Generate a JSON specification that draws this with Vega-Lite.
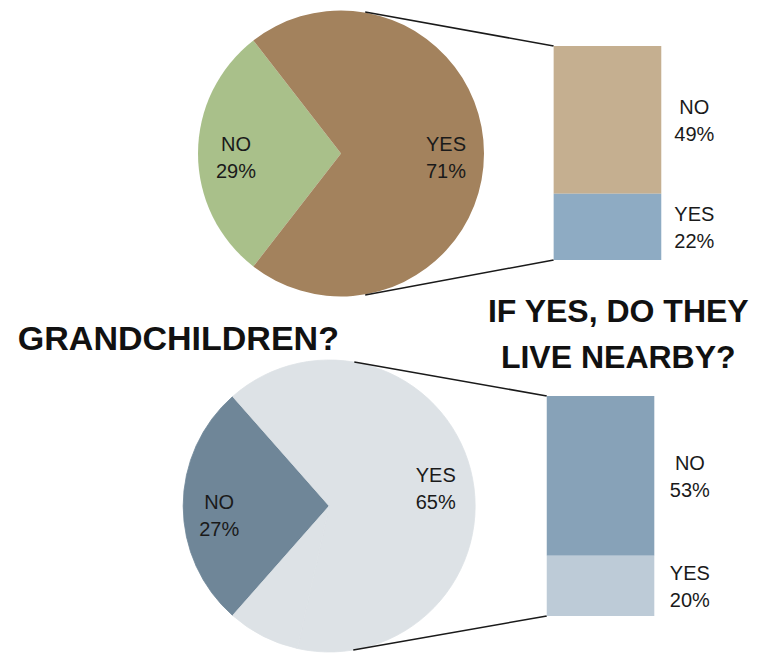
{
  "$schema": "https://vega.github.io/schema/vega-lite/v6.json",
  "padding": 0,
  "spacing": 0,
  "bounds": "flush",
  "background": "white",
  "datasets": {
    "top_pie": [
      {"answer": "NO", "share": 0.29},
      {"answer": "YES", "share": 0.71}
    ],
    "top_bar": [
      {"answer": "NO", "share": 0.49},
      {"answer": "YES", "share": 0.22}
    ],
    "grand_pie": [
      {"answer": "NO", "share": 0.27},
      {"answer": "YES", "share": 0.65},
      {"answer": "NO ANSWER", "share": 0.08}
    ],
    "grand_bar": [
      {"answer": "NO", "share": 0.53},
      {"answer": "YES", "share": 0.20}
    ]
  },
  "vconcat": [
    {
      "width": 759,
      "height": 300,
      "resolve": {"scale": {"color": "independent"}},
      "layer": [
        {
          "data": {"name": "top_pie"},
          "mark": {"type": "arc", "radius": 143},
          "encoding": {
            "theta": {"field": "share", "type": "quantitative", "stack": true, "scale": {"domain": [0, 1], "range": [3.8013, 10.0845]}},
            "order": {"field": "share", "sort": "ascending"},
            "color": {"field": "answer", "type": "nominal", "scale": {"domain": ["NO", "YES"], "range": ["#a9c08a", "#a3825d"]}, "legend": null},
            "x": {"datum": 44.86, "type": "quantitative", "scale": {"domain": [0, 100], "nice": false, "zero": false}, "axis": null},
            "y": {"datum": 0.3534, "type": "quantitative", "scale": {"domain": [-0.1327, 0.8626], "nice": false, "zero": false}, "axis": null}
          }
        },
        {
          "data": {"name": "top_pie"},
          "mark": {"type": "text", "radius": 105, "dy": -8.5, "font": "Liberation Sans", "fontSize": 20, "fill": "#1a1a1a"},
          "encoding": {
            "theta": {"field": "share", "type": "quantitative", "stack": true, "scale": {"domain": [0, 1], "range": [3.8013, 10.0845]}},
            "order": {"field": "share", "sort": "ascending"},
            "text": {"field": "answer"},
            "x": {"datum": 44.86, "type": "quantitative", "scale": {"domain": [0, 100], "nice": false, "zero": false}, "axis": null},
            "y": {"datum": 0.3534, "type": "quantitative", "scale": {"domain": [-0.1327, 0.8626], "nice": false, "zero": false}, "axis": null}
          }
        },
        {
          "data": {"name": "top_pie"},
          "mark": {"type": "text", "radius": 105, "dy": 18.5, "font": "Liberation Sans", "fontSize": 20, "fill": "#1a1a1a"},
          "encoding": {
            "theta": {"field": "share", "type": "quantitative", "stack": true, "scale": {"domain": [0, 1], "range": [3.8013, 10.0845]}},
            "order": {"field": "share", "sort": "ascending"},
            "text": {"field": "share", "format": ".0%"},
            "x": {"datum": 44.86, "type": "quantitative", "scale": {"domain": [0, 100], "nice": false, "zero": false}, "axis": null},
            "y": {"datum": 0.3534, "type": "quantitative", "scale": {"domain": [-0.1327, 0.8626], "nice": false, "zero": false}, "axis": null}
          }
        },
        {
          "data": {"values": [{}]},
          "mark": {"type": "rule", "color": "#1a1a1a", "strokeWidth": 1.5},
          "encoding": {
            "x": {"datum": 48.09, "type": "quantitative", "scale": {"domain": [0, 100], "nice": false, "zero": false}, "axis": null},
            "y": {"datum": 0.8228, "type": "quantitative", "scale": {"domain": [-0.1327, 0.8626], "nice": false, "zero": false}, "axis": null},
            "x2": {"datum": 73.25},
            "y2": {"datum": 0.71}
          }
        },
        {
          "data": {"values": [{}]},
          "mark": {"type": "rule", "color": "#1a1a1a", "strokeWidth": 1.5},
          "encoding": {
            "x": {"datum": 48.09, "type": "quantitative", "scale": {"domain": [0, 100], "nice": false, "zero": false}, "axis": null},
            "y": {"datum": -0.1161, "type": "quantitative", "scale": {"domain": [-0.1327, 0.8626], "nice": false, "zero": false}, "axis": null},
            "x2": {"datum": 73.25},
            "y2": {"datum": 0}
          }
        },
        {
          "data": {"name": "top_bar"},
          "mark": {"type": "bar", "orient": "vertical"},
          "encoding": {
            "x": {"datum": 73.25, "type": "quantitative", "scale": {"domain": [0, 100], "nice": false, "zero": false}, "axis": null},
            "x2": {"datum": 87.62},
            "y": {"field": "share", "type": "quantitative", "stack": "zero", "scale": {"domain": [-0.1327, 0.8626], "nice": false, "zero": false}, "axis": null},
            "order": {"field": "share", "sort": "ascending"},
            "color": {"field": "answer", "type": "nominal", "scale": {"domain": ["NO", "YES"], "range": ["#c5af90", "#8eabc3"]}, "legend": null}
          }
        },
        {
          "data": {"name": "top_bar"},
          "mark": {"type": "text", "dy": -11.5, "font": "Liberation Sans", "fontSize": 20, "fill": "#1a1a1a"},
          "encoding": {
            "x": {"datum": 92.03, "type": "quantitative", "scale": {"domain": [0, 100], "nice": false, "zero": false}, "axis": null},
            "y": {"field": "share", "type": "quantitative", "stack": "zero", "bandPosition": 0.5, "scale": {"domain": [-0.1327, 0.8626], "nice": false, "zero": false}, "axis": null},
            "order": {"field": "share", "sort": "ascending"},
            "text": {"field": "answer"}
          }
        },
        {
          "data": {"name": "top_bar"},
          "mark": {"type": "text", "dy": 15.5, "font": "Liberation Sans", "fontSize": 20, "fill": "#1a1a1a"},
          "encoding": {
            "x": {"datum": 92.03, "type": "quantitative", "scale": {"domain": [0, 100], "nice": false, "zero": false}, "axis": null},
            "y": {"field": "share", "type": "quantitative", "stack": "zero", "bandPosition": 0.5, "scale": {"domain": [-0.1327, 0.8626], "nice": false, "zero": false}, "axis": null},
            "order": {"field": "share", "sort": "ascending"},
            "text": {"field": "share", "format": ".0%"}
          }
        }
      ]
    },
    {
      "width": 759,
      "height": 356,
      "resolve": {"scale": {"color": "independent", "stroke": "independent"}},
      "layer": [
        {
          "data": {"name": "grand_pie"},
          "mark": {"type": "arc", "radius": 146, "strokeWidth": 0.8},
          "encoding": {
            "theta": {"field": "share", "type": "quantitative", "stack": true, "scale": {"domain": [0, 1], "range": [3.3615, 9.6447]}},
            "order": {"field": "share", "sort": "ascending"},
            "color": {"field": "answer", "type": "nominal", "scale": {"domain": ["NO", "YES", "NO ANSWER"], "range": ["#6f8698", "#dde2e6", "#dde2e6"]}, "legend": null},
            "stroke": {"field": "answer", "type": "nominal", "scale": {"domain": ["NO", "YES", "NO ANSWER"], "range": ["#6f8698", "#dde2e6", "#dde2e6"]}, "legend": null},
            "x": {"datum": 43.28, "type": "quantitative", "scale": {"domain": [0, 100], "nice": false, "zero": false}, "axis": null},
            "y": {"datum": 0.365, "type": "quantitative", "scale": {"domain": [-0.1327, 1.0484], "nice": false, "zero": false}, "axis": null}
          }
        },
        {
          "data": {"name": "grand_pie"},
          "mark": {"type": "text", "radius": 110, "dy": -3, "font": "Liberation Sans", "fontSize": 20, "fill": "#1a1a1a"},
          "encoding": {
            "theta": {"field": "share", "type": "quantitative", "stack": true, "scale": {"domain": [0, 1], "range": [3.3615, 9.6447]}},
            "order": {"field": "share", "sort": "ascending"},
            "text": {"field": "answer"},
            "opacity": {"condition": {"test": "datum.answer === 'NO ANSWER'", "value": 0}, "value": 1},
            "x": {"datum": 43.28, "type": "quantitative", "scale": {"domain": [0, 100], "nice": false, "zero": false}, "axis": null},
            "y": {"datum": 0.365, "type": "quantitative", "scale": {"domain": [-0.1327, 1.0484], "nice": false, "zero": false}, "axis": null}
          }
        },
        {
          "data": {"name": "grand_pie"},
          "mark": {"type": "text", "radius": 110, "dy": 24, "font": "Liberation Sans", "fontSize": 20, "fill": "#1a1a1a"},
          "encoding": {
            "theta": {"field": "share", "type": "quantitative", "stack": true, "scale": {"domain": [0, 1], "range": [3.3615, 9.6447]}},
            "order": {"field": "share", "sort": "ascending"},
            "text": {"field": "share", "format": ".0%"},
            "opacity": {"condition": {"test": "datum.answer === 'NO ANSWER'", "value": 0}, "value": 1},
            "x": {"datum": 43.28, "type": "quantitative", "scale": {"domain": [0, 100], "nice": false, "zero": false}, "axis": null},
            "y": {"datum": 0.365, "type": "quantitative", "scale": {"domain": [-0.1327, 1.0484], "nice": false, "zero": false}, "axis": null}
          }
        },
        {
          "data": {"values": [{}]},
          "mark": {"type": "rule", "color": "#1a1a1a", "strokeWidth": 1.5},
          "encoding": {
            "x": {"datum": 46.64, "type": "quantitative", "scale": {"domain": [0, 100], "nice": false, "zero": false}, "axis": null},
            "y": {"datum": 0.8427, "type": "quantitative", "scale": {"domain": [-0.1327, 1.0484], "nice": false, "zero": false}, "axis": null},
            "x2": {"datum": 72.33},
            "y2": {"datum": 0.73}
          }
        },
        {
          "data": {"values": [{}]},
          "mark": {"type": "rule", "color": "#1a1a1a", "strokeWidth": 1.5},
          "encoding": {
            "x": {"datum": 46.5, "type": "quantitative", "scale": {"domain": [0, 100], "nice": false, "zero": false}, "axis": null},
            "y": {"datum": -0.1128, "type": "quantitative", "scale": {"domain": [-0.1327, 1.0484], "nice": false, "zero": false}, "axis": null},
            "x2": {"datum": 72.33},
            "y2": {"datum": 0}
          }
        },
        {
          "data": {"name": "grand_bar"},
          "mark": {"type": "bar", "orient": "vertical"},
          "encoding": {
            "x": {"datum": 72.33, "type": "quantitative", "scale": {"domain": [0, 100], "nice": false, "zero": false}, "axis": null},
            "x2": {"datum": 86.69},
            "y": {"field": "share", "type": "quantitative", "stack": "zero", "scale": {"domain": [-0.1327, 1.0484], "nice": false, "zero": false}, "axis": null},
            "order": {"field": "share", "sort": "ascending"},
            "color": {"field": "answer", "type": "nominal", "scale": {"domain": ["NO", "YES"], "range": ["#87a2b8", "#bdcbd7"]}, "legend": null}
          }
        },
        {
          "data": {"name": "grand_bar"},
          "mark": {"type": "text", "dy": -11.5, "font": "Liberation Sans", "fontSize": 20, "fill": "#1a1a1a"},
          "encoding": {
            "x": {"datum": 91.44, "type": "quantitative", "scale": {"domain": [0, 100], "nice": false, "zero": false}, "axis": null},
            "y": {"field": "share", "type": "quantitative", "stack": "zero", "bandPosition": 0.5, "scale": {"domain": [-0.1327, 1.0484], "nice": false, "zero": false}, "axis": null},
            "order": {"field": "share", "sort": "ascending"},
            "text": {"field": "answer"}
          }
        },
        {
          "data": {"name": "grand_bar"},
          "mark": {"type": "text", "dy": 15.5, "font": "Liberation Sans", "fontSize": 20, "fill": "#1a1a1a"},
          "encoding": {
            "x": {"datum": 91.44, "type": "quantitative", "scale": {"domain": [0, 100], "nice": false, "zero": false}, "axis": null},
            "y": {"field": "share", "type": "quantitative", "stack": "zero", "bandPosition": 0.5, "scale": {"domain": [-0.1327, 1.0484], "nice": false, "zero": false}, "axis": null},
            "order": {"field": "share", "sort": "ascending"},
            "text": {"field": "share", "format": ".0%"}
          }
        },
        {
          "data": {"values": [{}]},
          "mark": {"type": "text", "text": "GRANDCHILDREN?", "align": "left", "baseline": "alphabetic", "font": "Liberation Sans", "fontWeight": "bold", "fontSize": 34, "fill": "#111111"},
          "encoding": {
            "x": {"datum": 1.713, "type": "quantitative", "scale": {"domain": [0, 100], "nice": false, "zero": false}, "axis": null},
            "y": {"datum": 0.8826, "type": "quantitative", "scale": {"domain": [-0.1327, 1.0484], "nice": false, "zero": false}, "axis": null}
          }
        },
        {
          "data": {"values": [{}]},
          "mark": {"type": "text", "text": ["IF YES, DO THEY", "LIVE NEARBY?"], "align": "center", "baseline": "alphabetic", "lineHeight": 46, "font": "Liberation Sans", "fontWeight": "bold", "fontSize": 32, "fill": "#111111"},
          "encoding": {
            "x": {"datum": 81.88, "type": "quantitative", "scale": {"domain": [0, 100], "nice": false, "zero": false}, "axis": null},
            "y": {"datum": 0.9754, "type": "quantitative", "scale": {"domain": [-0.1327, 1.0484], "nice": false, "zero": false}, "axis": null}
          }
        }
      ]
    }
  ],
  "config": {"view": {"stroke": null}}
}
